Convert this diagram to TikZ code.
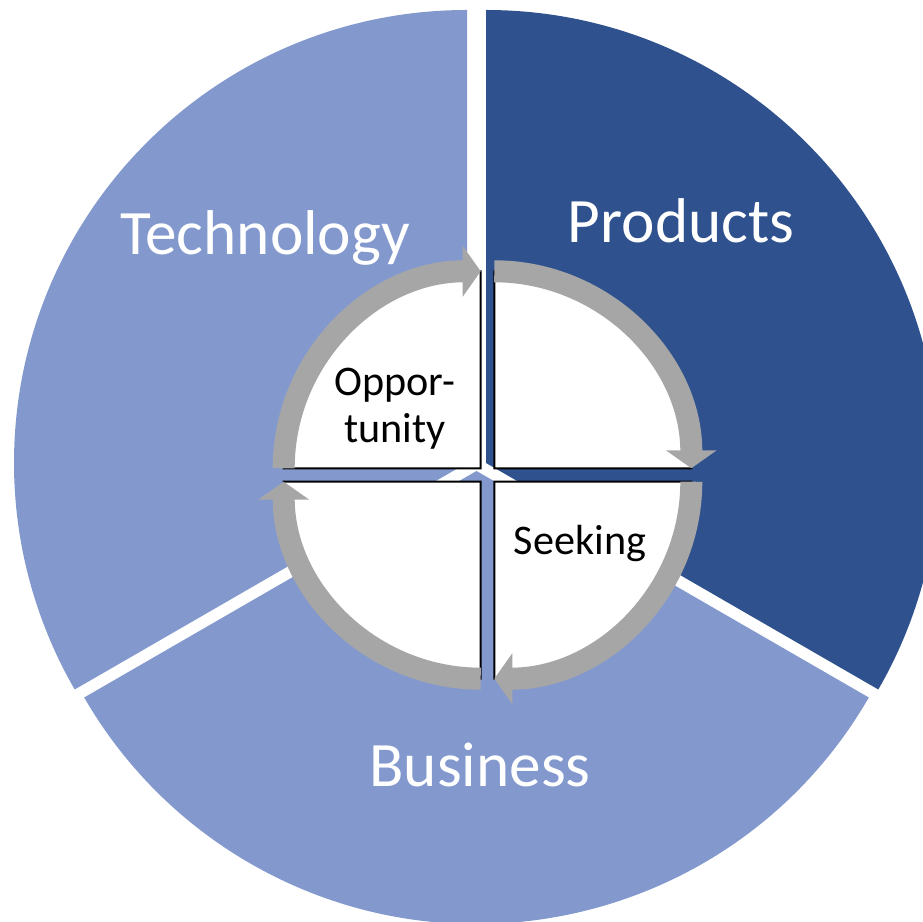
\documentclass[tikz,border=0pt]{standalone}
\usepackage{fontspec}
\setmainfont{Carlito}
\usetikzlibrary{arrows.meta}
\definecolor{lightblue}{RGB}{131,153,206}
\definecolor{darkblue}{RGB}{47,82,143}
\definecolor{ringgray}{RGB}{166,166,166}
\tikzset{
  bigtext/.style={text=white,anchor=base,font=\fontsize{36}{43}\selectfont},
  smalltext/.style={text=black,align=center,font=\fontsize{24}{26.7}\selectfont},
  quarter/.style={fill=white,draw=black,line width=1.1pt},
  ring/.style={draw=ringgray,line width=0.44cm,-{Triangle[width=1cm,length=0.36cm]}}
}

\begin{document}
\begin{tikzpicture}[x=0.02cm,y=0.02cm]
\useasboundingbox (0,0) rectangle (923,922);
\clip (0,0) rectangle (923,922);
% outer sectors
\fill[lightblue] (467,459) -- ++(90:453) arc[start angle=90,end angle=210,radius=453] -- cycle;
\fill[darkblue] (486,459) -- ++(90:453) arc[start angle=90,end angle=-30,radius=453] -- cycle;
\fill[lightblue] (476.5,451) -- ++(-30:453) arc[start angle=-30,end angle=-150,radius=453] -- cycle;
% inner quarters
\draw[quarter] (480.7,453.7) -- ++(180:197) arc[start angle=180,end angle=90,radius=197] -- cycle;
\draw[quarter] (494.3,453.7) -- ++(90:197) arc[start angle=90,end angle=0,radius=197] -- cycle;
\draw[quarter] (494.3,440.3) -- ++(0:197) arc[start angle=0,end angle=-90,radius=197] -- cycle;
\draw[quarter] (480.7,440.3) -- ++(-90:197) arc[start angle=-90,end angle=-180,radius=197] -- cycle;
% cycle arrows
\draw[ring] (283.7,453.7) arc[start angle=180,end angle=90,radius=197];
\draw[ring] (494.3,650.7) arc[start angle=90,end angle=0,radius=197];
\draw[ring] (691.3,440.3) arc[start angle=0,end angle=-90,radius=197];
\draw[ring] (480.7,243.3) arc[start angle=-90,end angle=-180,radius=197];
% labels
\node[bigtext] (tech) at (265,667) {Technology};
\node[bigtext] (prod) at (681,679) {Products};
\node[bigtext] (bus) at (480,135) {Business};
\node[smalltext] (opp) at (395,513) {Oppor-\\tunity};
\node[smalltext,anchor=base] (seek) at (580,367) {Seeking};
\end{tikzpicture}
\end{document}
